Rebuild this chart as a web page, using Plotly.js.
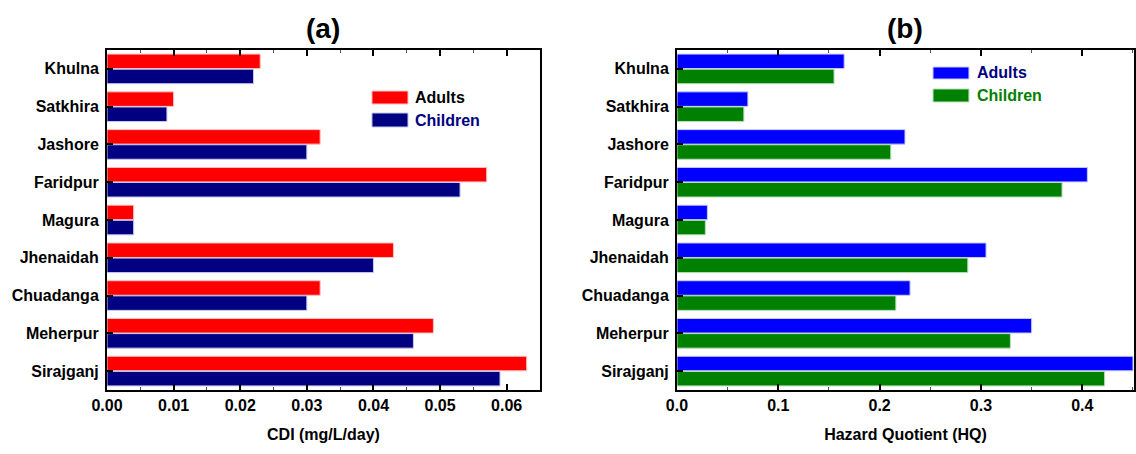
<!DOCTYPE html>
<html>
<head>
<meta charset="utf-8">
<script src="https://cdn.plot.ly/plotly-3.0.1.min.js"></script>
<style>html,body{margin:0;padding:0;background:#fff;}#chart{width:1136px;height:454px;}</style>
</head>
<body>
<div id="chart"></div>
<script>
const districts = ["Khulna","Satkhira","Jashore","Faridpur","Magura","Jhenaidah","Chuadanga","Meherpur","Sirajganj"];
const cdiAdults   = [0.023,0.010,0.032,0.057,0.004,0.043,0.032,0.049,0.063];
const cdiChildren = [0.022,0.009,0.030,0.053,0.004,0.040,0.030,0.046,0.059];
const hqAdults    = [0.165,0.070,0.225,0.405,0.030,0.305,0.230,0.350,0.450];
const hqChildren  = [0.155,0.066,0.211,0.380,0.028,0.287,0.216,0.329,0.422];
const seriesNames = ["Adults","Children"];
const cdiTicks = [0,0.01,0.02,0.03,0.04,0.05,0.06];
const cdiTickText = ["0.00","0.01","0.02","0.03","0.04","0.05","0.06"];
const hqTicks = [0,0.1,0.2,0.3,0.4];
const hqTickText = ["0.0","0.1","0.2","0.3","0.4"];

const FONT = "Arial, 'Liberation Sans', sans-serif";
const COL = {aAd:'#FF0000', aCh:'#000080', bAd:'#0000FF', bCh:'#008000'};
const EDGE = {aAd:'#FFC0C0', aCh:'#C8C8F0', bAd:'#C8C8FF', bCh:'#B8E0B8'};

const traces = [
  {type:'bar', orientation:'h', y:districts, x:cdiAdults, name:seriesNames[0], xaxis:'x', yaxis:'y', showlegend:false,
   marker:{color:COL.aAd, line:{color:EDGE.aAd, width:1}}},
  {type:'bar', orientation:'h', y:districts, x:cdiChildren, name:seriesNames[1], xaxis:'x', yaxis:'y', showlegend:false,
   marker:{color:COL.aCh, line:{color:EDGE.aCh, width:1}}},
  {type:'bar', orientation:'h', y:districts, x:hqAdults, name:seriesNames[0], xaxis:'x2', yaxis:'y2', showlegend:false,
   marker:{color:COL.bAd, line:{color:EDGE.bAd, width:1}}},
  {type:'bar', orientation:'h', y:districts, x:hqChildren, name:seriesNames[1], xaxis:'x2', yaxis:'y2', showlegend:false,
   marker:{color:COL.bCh, line:{color:EDGE.bCh, width:1}}}
];

const xCommon = {
  showgrid:false, zeroline:false, showline:true, linecolor:'#000', linewidth:2, mirror:'allticks',
  ticks:'inside', ticklen:6, tickwidth:2, tickcolor:'#000',
  minor:{ticks:'inside', ticklen:3, tickwidth:1, tickcolor:'#555'},
  tickfont:{family:FONT, size:16, color:'#000', weight:'bold'},
  fixedrange:true
};
const yCommon = {
  showgrid:false, zeroline:false, showline:true, linecolor:'#000', linewidth:2, mirror:true,
  ticks:'inside', ticklen:6, tickwidth:2, tickcolor:'#000',
  autorange:'reversed', type:'category',
  tickfont:{family:FONT, size:16, color:'#000', weight:'bold'},
  ticklabelstandoff:3,
  fixedrange:true
};

// legend helper geometry (paper coords: plot area spans x 107..1134 px, y 50..390 px)
function legendItem(x0, x1, y0, y1, tx, ty, fill, edge, label, tcolor) {
  return {
    shape:{type:'rect', xref:'paper', yref:'paper', x0:x0, x1:x1, y0:y0, y1:y1, fillcolor:fill, line:{color:edge, width:1}},
    ann:{text:label, xref:'paper', yref:'paper', x:tx, y:ty, xanchor:'left', yanchor:'middle', showarrow:false,
         font:{family:FONT, size:16, color:tcolor, weight:'bold'}}
  };
}
const legendItems = [
  legendItem(0.2580,0.2931,0.8412,0.8794,0.2980,0.8603,COL.aAd,EDGE.aAd,seriesNames[0],'#000000'),
  legendItem(0.2580,0.2931,0.7735,0.8147,0.2980,0.7941,COL.aCh,EDGE.aCh,seriesNames[1],'#000080'),
  legendItem(0.8043,0.8393,0.9147,0.9500,0.8452,0.9324,COL.bAd,EDGE.bAd,seriesNames[0],'#000080'),
  legendItem(0.8043,0.8393,0.8471,0.8853,0.8452,0.8662,COL.bCh,EDGE.bCh,seriesNames[1],'#008000')
];

const layout = {
  width:1136, height:454,
  margin:{l:107, r:2, t:50, b:64},
  paper_bgcolor:'#fff', plot_bgcolor:'#fff',
  font:{family:FONT, color:'#000'},
  barmode:'group', bargap:0.2, bargroupgap:0.04,
  showlegend:false,
  xaxis:Object.assign({}, xCommon, {domain:[0,0.4216], range:[0,0.065], tickvals:cdiTicks, ticktext:cdiTickText,
    minor:Object.assign({}, xCommon.minor, {dtick:0.005, tick0:0}),
    title:{text:'CDI (mg/L/day)', font:{family:FONT, size:16, color:'#000', weight:'bold'}, standoff:16}, anchor:'y'}),
  yaxis:Object.assign({}, yCommon, {anchor:'x', domain:[0,1]}),
  xaxis2:Object.assign({}, xCommon, {domain:[0.555,1], range:[0,0.451], tickvals:hqTicks, ticktext:hqTickText,
    minor:Object.assign({}, xCommon.minor, {dtick:0.05, tick0:0}),
    title:{text:'Hazard Quotient (HQ)', font:{family:FONT, size:16, color:'#000', weight:'bold'}, standoff:16}, anchor:'y2'}),
  yaxis2:Object.assign({}, yCommon, {anchor:'x2', domain:[0,1]}),
  shapes: legendItems.map(d => d.shape),
  annotations:[
    {text:'(a)', xref:'paper', yref:'paper', x:0.2108, y:1, yshift:22, xanchor:'center', yanchor:'middle', showarrow:false,
     font:{family:FONT, size:28, color:'#000', weight:'bold'}},
    {text:'(b)', xref:'paper', yref:'paper', x:0.7775, y:1, yshift:22, xanchor:'center', yanchor:'middle', showarrow:false,
     font:{family:FONT, size:28, color:'#000', weight:'bold'}}
  ].concat(legendItems.map(d => d.ann))
};

Plotly.newPlot('chart', traces, layout, {staticPlot:true, displayModeBar:false});
</script>
</body>
</html>
